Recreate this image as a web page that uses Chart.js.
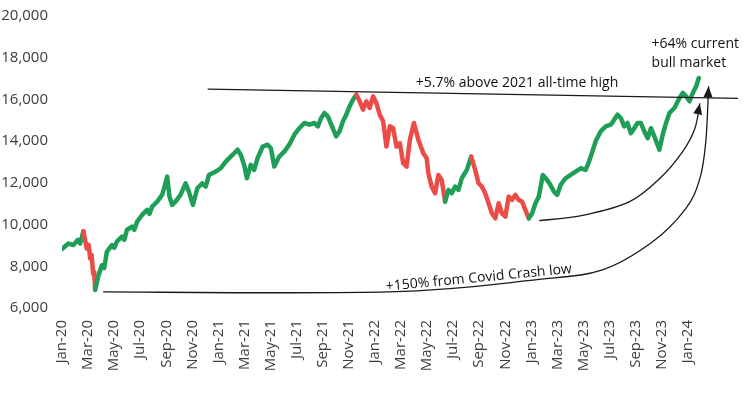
<!DOCTYPE html>
<html>
<head>
<meta charset="utf-8">
<script src="https://cdn.jsdelivr.net/npm/chart.js@4"></script>
<style>
  body { margin: 0; background: #fff; }
</style>
</head>
<body>
<canvas id="chart" width="747" height="395"></canvas>
<script>
// x = months since Jan-20, y = index level
const monthPos = [
  0.00, 0.49, 0.87, 1.21, 1.39, 1.64,
  1.90, 2.04, 2.16, 2.27, 2.39, 2.47, 2.54,
  2.80, 3.06, 3.24, 3.44, 3.83, 4.01, 4.21, 4.60, 4.78, 4.98, 5.37, 5.55, 5.76,
  6.14, 6.53, 6.71, 6.91, 7.30, 7.68, 7.86, 8.07, 8.24, 8.45, 8.71, 9.09, 9.48,
  9.73, 10.04, 10.38, 10.76, 11.02, 11.27, 11.79, 12.17, 12.56, 12.94, 13.20,
  13.46, 13.71, 13.97, 14.18, 14.48, 14.74, 15.00, 15.39, 15.77, 16.02, 16.28,
  16.66, 17.05, 17.43, 17.82, 18.20, 18.59, 18.98, 19.36, 19.62, 19.88, 20.13,
  20.39, 20.65, 21.03, 21.29, 21.55, 21.80, 22.06, 22.32, 22.57,
  22.83, 23.09, 23.34, 23.60, 23.86, 24.11, 24.37, 24.63, 24.75, 24.88, 25.14,
  25.40, 25.65, 25.91, 26.17, 26.43, 26.68, 26.99, 27.33, 27.71, 27.97, 28.10,
  28.35, 28.61, 28.87, 29.12, 29.38,
  29.64, 29.89, 30.15, 30.41, 30.66, 31.05, 31.38,
  31.69, 31.95, 32.20, 32.46, 32.72, 32.97, 33.23, 33.49, 33.74, 34.00, 34.26,
  34.51, 34.77, 35.03, 35.29, 35.54, 35.80,
  36.06, 36.31, 36.57, 36.88, 37.21, 37.44, 37.73, 37.98, 38.24, 38.62, 39.01,
  39.39, 39.78, 40.16, 40.42, 40.68, 40.93, 41.32, 41.70, 42.09, 42.35, 42.60,
  42.86, 43.12, 43.37, 43.63, 43.89, 44.14, 44.40, 44.66, 44.92, 45.17, 45.43,
  45.82, 46.07, 46.33, 46.59, 46.97, 47.36, 47.61, 47.87, 48.13, 48.38, 48.64,
  48.84
];
const indexLevel = [
  8830, 9090, 9020, 9260, 9090, 9680,
  8850, 9030, 8370, 8550, 7640, 7730, 6870,
  7570, 8050, 7920, 8690, 9020, 8890, 9180, 9420, 9270, 9740, 9900, 9750, 10140,
  10460, 10700, 10520, 10860, 11100, 11420, 11820, 12300, 11340, 10940, 11100, 11420, 11980,
  11580, 10940, 11740, 11980, 11820, 12380, 12540, 12700, 13020, 13260, 13420,
  13590, 13350, 12860, 12220, 12860, 12620, 13180, 13740, 13830, 13660, 12780,
  13260, 13500, 13830, 14310, 14620, 14870, 14790, 14870, 14710, 15110, 15350,
  15190, 14790, 14230, 14470, 14950, 15270, 15670, 15990, 16230,
  15910, 15510, 15910, 15590, 16150, 15830, 15270, 14950, 14380, 13740, 14710,
  14620, 13740, 13900, 12940, 12780, 14070, 14870, 14070, 13420, 13180, 12460,
  11820, 11500, 12380, 12140, 11100,
  11660, 11500, 11820, 11660, 12220, 12620, 13260,
  12620, 11980, 11820, 11500, 11020, 10540, 10300, 11020, 10540, 10380, 11340,
  11180, 11420, 11180, 11100, 10700, 10300,
  10540, 11020, 11340, 12380, 12140, 11920, 11580, 11420, 11900, 12220, 12380,
  12540, 12700, 12620, 13020, 13500, 13990, 14470, 14710, 14790, 15030, 15270,
  15110, 14710, 14870, 14380, 14620, 14870, 14870, 14470, 14140, 14620, 14230,
  13590, 14310, 14870, 15350, 15590, 16070, 16310, 16150, 15910, 16310, 16630,
  17030
];
// drawdown periods drawn in red, [from, to] in months since Jan-20
const bearMarkets = [[1.64, 2.54], [22.57, 29.38], [31.38, 35.80]];

const tickLabels = [
  "Jan-20", "Mar-20", "May-20", "Jul-20", "Sep-20", "Nov-20",
  "Jan-21", "Mar-21", "May-21", "Jul-21", "Sep-21", "Nov-21",
  "Jan-22", "Mar-22", "May-22", "Jul-22", "Sep-22", "Nov-22",
  "Jan-23", "Mar-23", "May-23", "Jul-23", "Sep-23", "Nov-23",
  "Jan-24"
];

// annotation geometry, in chart units (month, level)
const athLine = [[11.17, 16490], [51.85, 16050]];
const covidArrow = [[3.16, 6770], [25.04, 6770], [36.29, 7350], [41.45, 7830],
  [45.30, 9175], [47.84, 10760], [48.92, 12200], [49.38, 13990], [49.59, 16630]];
const bullArrow = [[36.60, 10185], [40.14, 10470], [43.53, 11100], [45.84, 12205],
  [47.60, 13500], [48.54, 14610], [48.92, 15810]];

const GREEN = "#1e9e57";
const RED = "#ec4c48";
const TEXT = "#3c3c3c";

function inBear(a, b) {
  return bearMarkets.some(r => a >= r[0] - 0.001 && b <= r[1] + 0.001);
}

function smoothPath(ctx, pts) {
  ctx.moveTo(pts[0][0], pts[0][1]);
  for (let i = 0; i < pts.length - 1; i++) {
    const p0 = pts[i - 1] || pts[i];
    const p1 = pts[i];
    const p2 = pts[i + 1];
    const p3 = pts[i + 2] || p2;
    const c1 = [p1[0] + (p2[0] - p0[0]) / 6, p1[1] + (p2[1] - p0[1]) / 6];
    const c2 = [p2[0] - (p3[0] - p1[0]) / 6, p2[1] - (p3[1] - p1[1]) / 6];
    ctx.bezierCurveTo(c1[0], c1[1], c2[0], c2[1], p2[0], p2[1]);
  }
}

function arrowHead(ctx, tip, from) {
  const ang = Math.atan2(tip[1] - from[1], tip[0] - from[0]);
  const len = 11, half = 4.5;
  ctx.beginPath();
  ctx.moveTo(tip[0], tip[1]);
  ctx.lineTo(tip[0] - len * Math.cos(ang) + half * Math.sin(ang),
             tip[1] - len * Math.sin(ang) - half * Math.cos(ang));
  ctx.lineTo(tip[0] - len * Math.cos(ang) - half * Math.sin(ang),
             tip[1] - len * Math.sin(ang) + half * Math.cos(ang));
  ctx.closePath();
  ctx.fill();
}

const notes = {
  id: "notes",
  afterDatasetsDraw(chart) {
    const { ctx, scales: { x, y } } = chart;
    const px = p => [x.getPixelForValue(p[0]), y.getPixelForValue(p[1])];
    ctx.save();
    ctx.strokeStyle = "#1a1a1a";
    ctx.fillStyle = "#1a1a1a";
    ctx.lineWidth = 1.3;

    const a = px(athLine[0]), b = px(athLine[1]);
    ctx.beginPath();
    ctx.moveTo(a[0], a[1]);
    ctx.lineTo(b[0], b[1]);
    ctx.stroke();

    [covidArrow, bullArrow].forEach(path => {
      const pts = path.map(px);
      ctx.beginPath();
      smoothPath(ctx, pts);
      ctx.stroke();
      arrowHead(ctx, pts[pts.length - 1], pts[pts.length - 2]);
    });

    ctx.fillStyle = "#111";
    ctx.font = "14px 'Open Sans'";
    ctx.textBaseline = "alphabetic";
    ctx.textAlign = "center";
    let p = px([34.9, 16580]);
    ctx.fillText("+5.7% above 2021 all-time high", p[0], p[1]);

    ctx.textAlign = "left";
    p = px([45.22, 18460]);
    ctx.fillText("+64% current", p[0], p[1]);
    p = px([45.22, 17540]);
    ctx.fillText("bull market", p[0], p[1]);

    p = px([32.0, 7250]);
    ctx.translate(p[0], p[1]);
    ctx.rotate(-5.5 * Math.PI / 180);
    ctx.textAlign = "center";
    ctx.fillText("+150% from Covid Crash low", 0, 0);
    ctx.restore();
  }
};

new Chart(document.getElementById("chart").getContext("2d"), {
  type: "line",
  data: {
    datasets: [{
      data: monthPos.map((m, i) => ({ x: m, y: indexLevel[i] })),
      borderColor: GREEN,
      borderWidth: 4.5,
      pointRadius: 0,
      tension: 0,
      borderJoinStyle: "round",
      borderCapStyle: "round",
      segment: {
        borderColor: c => inBear(c.p0.parsed.x, c.p1.parsed.x) ? RED : GREEN
      }
    }]
  },
  options: {
    responsive: false,
    animation: false,
    layout: { padding: { left: 0, top: 16, right: 7, bottom: 0 } },
    plugins: { legend: { display: false }, tooltip: { enabled: false } },
    scales: {
      x: {
        type: "linear",
        min: 0,
        max: 52,
        border: { display: false },
        grid: { display: false, drawTicks: false, tickLength: 0 },
        afterBuildTicks: s => { s.ticks = tickLabels.map((_, i) => ({ value: i * 2 })); },
        afterFit: s => { s.height = 87; s.paddingLeft = 0; s.paddingRight = 0; },
        ticks: {
          autoSkip: false,
          maxRotation: 90,
          minRotation: 90,
          padding: 12,
          color: TEXT,
          font: { family: "'Open Sans'", size: 15 },
          callback: (v, i) => tickLabels[i]
        }
      },
      y: {
        min: 6000,
        max: 20000,
        border: { display: false },
        grid: { display: false, drawTicks: false, tickLength: 0 },
        afterFit: s => { s.width = 62; s.paddingTop = 0; s.paddingBottom = 0; },
        ticks: {
          stepSize: 2000,
          padding: 14,
          color: TEXT,
          font: { family: "'Open Sans'", size: 15 },
          callback: v => v.toLocaleString("en-US")
        }
      }
    }
  },
  plugins: [notes]
});
</script>
</body>
</html>
